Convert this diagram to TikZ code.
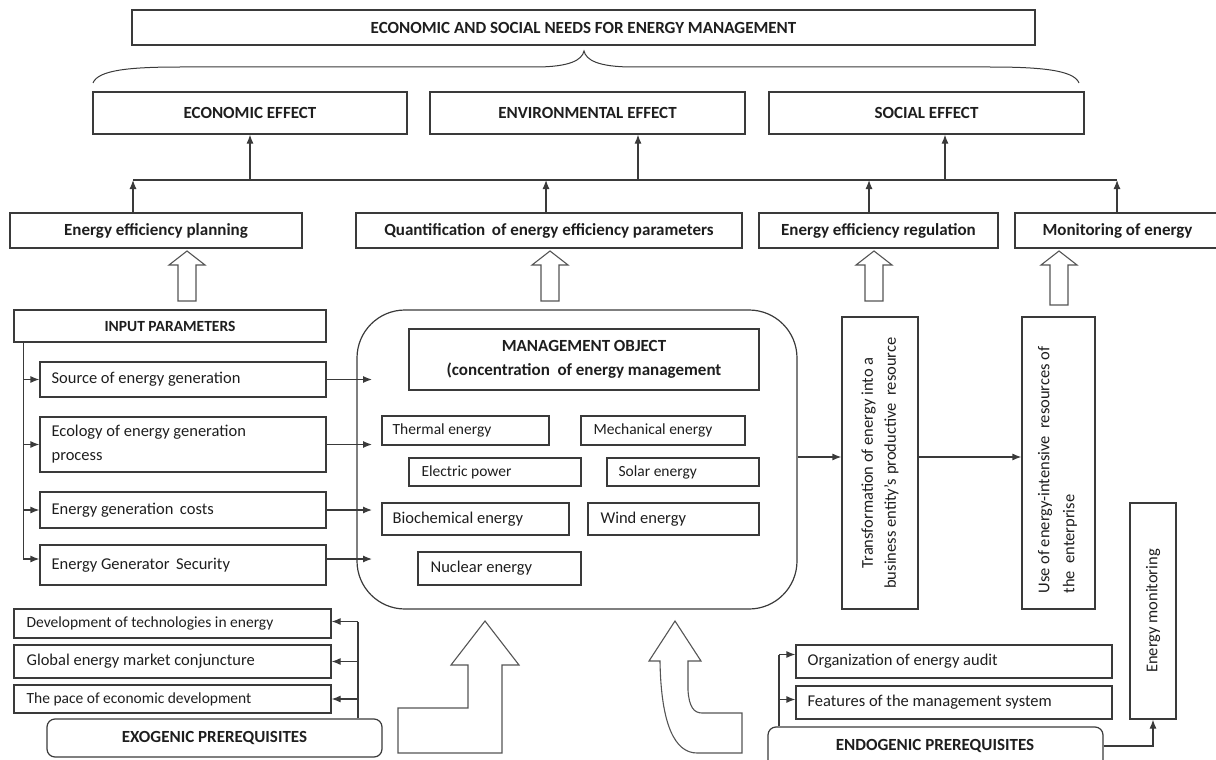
\documentclass[tikz,border=0pt]{standalone}
\usepackage{fontspec}
\setmainfont{Carlito}
\usetikzlibrary{arrows.meta,calc}
\definecolor{ink}{HTML}{1E1E1E}
\definecolor{edge}{HTML}{3A3A3A}
\definecolor{shade}{HTML}{555555}

% box by corners: [options]{name}{x1}{y1}{x2}{y2}{text}
\newcommand\cbox[7][]{%
  \node[box,minimum width={#5-#3},minimum height={#6-#4},#1] (#2)
    at ({(#3+#5)/2},{(#4+#6)/2}) {#7};}
% left-aligned label inside a box: [font style]{box name}{padding}{text}
\newcommand\ltext[4][reg]{%
  \node[#1,anchor=west,inner sep=0pt,text=ink] (#2-t) at ([xshift=#3pt]#2.west) {#4};}
% small hollow up arrow: {centre x}{bottom y}
\newcommand\hollowup[2]{%
  \draw[hollow] (#1,251) -- (#1+18,265) -- (#1+9,265) -- (#1+9,#2)
    -- (#1-9,#2) -- (#1-9,265) -- (#1-18,265) -- cycle;}

\begin{document}
\begin{tikzpicture}[x=1pt,y=-1pt,
  box/.style={draw=edge,line width=1.2pt,inner sep=0pt,text=ink,align=center},
  ttl/.style={font=\fontsize{17}{20}\selectfont\bfseries},
  ttls/.style={font=\fontsize{15.5}{18}\selectfont\bfseries},
  reg/.style={font=\fontsize{16.5}{20}\selectfont},
  sml/.style={font=\fontsize{15.5}{18}\selectfont},
  wire/.style={draw=edge,line width=1.2pt},
  arr/.style={wire,-{Latex[length=9pt,width=7pt]}},
  hollow/.style={draw=shade,line width=1.1pt,fill=white,line join=miter}]
\useasboundingbox (0,0) rectangle (1216,760);

% ---- needs and effects
\cbox[ttl]{top}{132}{10}{1035}{45}{ECONOMIC AND SOCIAL NEEDS FOR ENERGY MANAGEMENT}
\draw[wire,line width=1pt] (93,83) .. controls (98,70) and (130,67) .. (180,67) -- (535,67)
  .. controls (570,67) and (582,60) .. (584,51)
  .. controls (586,60) and (598,67) .. (633,67) -- (990,67)
  .. controls (1040,67) and (1074,70) .. (1079,83);
\cbox[ttl]{econ}{93}{92}{407}{134}{ECONOMIC EFFECT}
\cbox[ttl]{env}{430}{92}{745}{134}{ENVIRONMENTAL EFFECT}
\cbox[ttl]{soc}{769}{92}{1084}{134}{SOCIAL EFFECT}

% ---- management functions
\cbox[ttl]{plan}{10}{213}{302}{248}{Energy efficiency planning}
\cbox[ttl]{quant}{356}{213}{742}{248}{Quantification\, of energy efficiency parameters}
\cbox[ttl]{regu}{759}{213}{998}{248}{Energy efficiency regulation}
\cbox[ttl]{mon}{1015}{213}{1220}{248}{Monitoring of energy}

% bus between functions and effects
\coordinate (b1) at (133,180);
\coordinate (b2) at (546,180);
\coordinate (b3) at (869,180);
\coordinate (b4) at (1117,180);
\draw[wire] (b1) -- (b4);
\draw[arr] (plan.north -| b1) -- (b1);
\draw[arr] (quant.north -| b2) -- (b2);
\draw[arr] (regu.north -| b3) -- (b3);
\draw[arr] (mon.north -| b4) -- (b4);
\coordinate (e1) at (250,180);
\coordinate (e2) at (638,180);
\coordinate (e3) at (945,180);
\draw[arr] (e1) -- (econ.south -| e1);
\draw[arr] (e2) -- (env.south -| e2);
\draw[arr] (e3) -- (soc.south -| e3);

\hollowup{187}{301}
\hollowup{550}{301}
\hollowup{874}{301}
\hollowup{1059}{305}

% ---- input parameters
\cbox[ttls]{inp}{14}{310}{326}{342}{INPUT PARAMETERS}
\cbox{src}{40}{362}{326}{397}{}
\cbox{eco}{40}{417}{326}{472}{}
\cbox{cost}{40}{492}{326}{528}{}
\cbox{sec}{40}{545}{326}{585}{}
\ltext{src}{12}{Source of energy generation}
\node[anchor=west,inner sep=0pt,text=ink,align=left,
  font=\fontsize{16.5}{24}\selectfont] (eco-t) at ([xshift=12pt]eco.west)
  {Ecology of energy generation\\process};
\ltext{cost}{12}{Energy generation\, costs}
\ltext{sec}{12}{Energy Generator\, Security}
\coordinate (ip) at ([xshift=10pt]inp.south west);
\coordinate (secin) at ([yshift=6pt]sec.west);
\coordinate (secout) at ([yshift=6pt]sec.east);
\draw[wire] (ip) -- (ip |- secin);
\draw[arr] (ip |- src.west) -- (src.west);
\draw[arr] (ip |- eco.west) -- (eco.west);
\draw[arr] (ip |- cost.west) -- (cost.west);
\draw[arr] (ip |- secin) -- (secin);

% ---- management object
\cbox[rounded corners=48pt]{obj}{357}{310}{797}{609}{}
\cbox[font=\fontsize{17}{24}\selectfont\bfseries]{mgmt}{409}{329}{759}{390}
  {MANAGEMENT OBJECT\\(concentration\ \ of energy management}
\cbox{therm}{382}{416}{549}{445}{}
\cbox{mech}{581}{416}{745}{445}{}
\cbox{elec}{409}{458}{581}{486}{}
\cbox{solar}{607}{458}{759}{486}{}
\cbox{bio}{382}{503}{569}{535}{}
\cbox{wind}{588}{503}{759}{535}{}
\cbox{nuc}{418}{552}{581}{585}{}
\ltext[sml]{therm}{11}{Thermal energy}
\ltext[sml]{mech}{13}{Mechanical energy}
\ltext[sml]{elec}{13}{Electric power}
\ltext[sml]{solar}{12}{Solar energy}
\ltext{bio}{11}{Biochemical energy}
\ltext{wind}{13}{Wind energy}
\ltext{nuc}{13}{Nuclear energy}

\coordinate (inx) at (372,0);
\draw[arr] (src.east) -- (src.east -| inx);
\draw[arr] (eco.east) -- (eco.east -| inx);
\draw[arr] (cost.east) -- (cost.east -| inx);
\draw[arr] (secout) -- (secout -| inx);

% ---- transformation chain
\cbox{trans}{842}{317}{918}{609}{}
\node[rotate=90,align=center,text=ink,font=\fontsize{16.5}{23}\selectfont] (trans-t)
  at (trans.center) {Transformation of energy into a\\business entity's productive\ \ resource};
\cbox{use}{1022}{317}{1095}{609}{}
\node[rotate=90,align=left,text=ink,font=\fontsize{16.5}{25}\selectfont] (use-t)
  at ([xshift=-1pt,yshift=-7pt]use.center) {Use of energy-intensive\ \ resources of\\the\ \ enterprise};
\cbox{emon}{1130}{503}{1176}{719}{}
\node[rotate=90,text=ink,reg] (emon-t) at (emon.center) {Energy monitoring};
\coordinate (oy) at (0,457);
\draw[arr] (obj.east |- oy) -- (trans.west |- oy);
\draw[arr] (trans.east |- oy) -- (use.west |- oy);

% ---- exogenic prerequisites
\cbox{dev}{14}{609}{331}{638}{}
\cbox{glob}{14}{645}{331}{678}{}
\cbox{pace}{14}{685}{331}{713}{}
\ltext[sml]{dev}{13}{Development of technologies in energy}
\ltext{glob}{13}{Global energy market conjuncture}
\ltext[sml]{pace}{13}{The pace of economic development}
\cbox[ttl,rounded corners=8pt]{exo}{47}{719}{382}{757}{EXOGENIC PREREQUISITES}
\coordinate (ex) at (358,0);
\coordinate (devin) at ([yshift=2pt]dev.east);
\draw[wire] (ex |- exo.north) -- (ex |- devin);
\draw[arr] (ex |- devin) -- (devin);
\draw[arr] (ex |- glob.east) -- (glob.east);
\draw[arr] (ex |- pace.east) -- (pace.east);

% ---- large hollow arrows into the management object
\draw[hollow] (485,621) -- (519,665) -- (502,665) -- (502,753) -- (398,753)
  -- (398,708) -- (468,708) -- (468,665) -- (451,665) -- cycle;
\draw[hollow] (675,621) -- (701,661) -- (688,661) -- (688,690)
  .. controls (689,707) and (694,713) .. (702,713) -- (742,713) -- (742,753)
  -- (697,753) .. controls (675,753) and (661,725) .. (660,661) -- (649,661) -- cycle;

% ---- endogenic prerequisites
\cbox{org}{796}{645}{1112}{678}{}
\cbox{feat}{796}{686}{1112}{719}{}
\ltext{org}{12}{Organization of energy audit}
\ltext{feat}{12}{Features of the management system}
\cbox[rounded corners=8pt]{endo}{768}{727}{1103}{768}{}
\node[ttl,text=ink] (endo-t) at (935,746) {ENDOGENIC PREREQUISITES};
\coordinate (en) at (779,0);
\coordinate (orgin) at ([yshift=7pt]org.west);
\coordinate (featin) at ([yshift=3pt]feat.west);
\draw[wire] (en |- endo.north) -- (en |- orgin);
\draw[arr] (en |- orgin) -- (orgin);
\draw[arr] (en |- featin) -- (featin);
\draw[arr] (endo.east |- endo-t) -| (emon.south);
\end{tikzpicture}
\end{document}
